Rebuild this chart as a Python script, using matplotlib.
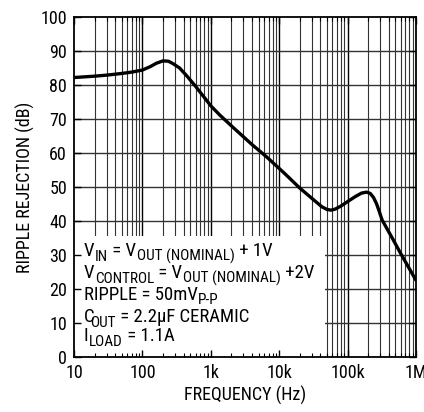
import numpy as np
import matplotlib
matplotlib.use('Agg')
import matplotlib.pyplot as plt
from matplotlib.patches import Rectangle

# --- data ---
freq_hz = [10, 20, 30, 50, 70, 100, 130, 160, 200, 240, 280, 350, 450, 600,
           800, 1000, 1350, 2100, 4000, 6600, 12000, 20000, 32000, 42000,
           50000, 57000, 66000, 80000, 100000, 130000, 160000, 190000,
           215000, 240000, 265000, 290000, 320000, 450000, 600000, 800000,
           1000000]
rejection_db = [82.2, 82.6, 82.9, 83.4, 83.8, 84.4, 85.4, 86.4, 87.1, 87.0, 86.3,
                85.0, 82.6, 79.6, 76.4, 73.9, 71.2, 67.6, 62.5, 58.8, 54.0,
                49.7, 46.2, 44.2, 43.4, 43.2, 43.5, 44.4, 45.7, 47.2, 48.2,
                48.5, 48.1, 46.9, 45.1, 42.9, 40.3, 35.0, 30.4, 26.0, 22.6]

x_ticks = [10, 100, 1e3, 1e4, 1e5, 1e6]
x_tick_labels = ['10', '100', '1k', '10k', '100k', '1M']
y_ticks = list(range(0, 101, 10))

# conditions box: (text, is_subscript) pieces per line
note_lines = [
    [('V', 0), ('IN', 1), (' = V', 0), ('OUT (NOMINAL)', 1), (' + 1V', 0)],
    [('V', 0), ('CONTROL', 1), (' = V', 0), ('OUT (NOMINAL)', 1), (' +2V', 0)],
    [('RIPPLE = 50mV', 0), ('P-P', 1)],
    [('C', 0), ('OUT', 1), (' = 2.2µF CERAMIC', 0)],
    [('I', 0), ('LOAD', 1), (' = 1.1A', 0)],
]
note_baselines = [0.297, 0.232, 0.168, 0.103, 0.047]

font = 'Roboto Condensed'
plt.rcParams['font.family'] = [font, 'DejaVu Sans']

fig = plt.figure(figsize=(4.24, 4.12), dpi=100)
ax = fig.add_axes([0.1745, 0.1335, 0.8065, 0.8252])
ax.set_xscale('log')
ax.set_xlim(10, 1e6)
ax.set_ylim(0, 100)

# grid drawn by hand so the note box can sit above it but below the ticks
for d in range(1, 6):
    for k in range(1, 10):
        xv = k * 10 ** d
        if xv <= 10 or xv >= 1e6:
            continue
        ax.axvline(xv, color='black' if k == 1 else '#333333',
                   lw=1.0 if k == 1 else 0.8, zorder=0.8)
for yv in y_ticks[1:-1]:
    ax.axhline(yv, color='#333333', lw=1.0, zorder=0.8)

# white note box
ax.add_patch(Rectangle((10, 0), 47000 - 10, 35.5, facecolor='white',
                       edgecolor='none', zorder=1.2))

ax.plot(freq_hz, rejection_db, color='black', lw=2.4, zorder=3,
        solid_capstyle='round', solid_joinstyle='round')

ax.set_xticks(x_ticks)
ax.set_xticklabels(x_tick_labels)
ax.set_yticks(y_ticks)
ax.tick_params(axis='both', which='major', direction='in', length=5,
               labelsize=13, width=1, pad=5, top=True, right=True)
ax.tick_params(axis='x', which='minor', direction='in', length=3, width=0.8,
               top=True)
ax.xaxis.set_minor_formatter(plt.NullFormatter())
for s in ax.spines.values():
    s.set_linewidth(1.3)

ax.set_xlabel('FREQUENCY (Hz)', fontsize=13, labelpad=3)
ax.set_ylabel('RIPPLE REJECTION (dB)', fontsize=13, labelpad=4)

# note text, built piece by piece so subscripts can be larger than mathtext's
main_fs, sub_fs, drop = 13.5, 11, 2.6
for pieces, yb in zip(note_lines, note_baselines):
    prev = None
    prev_sub = 0
    prev_txt = ''
    for txt, sub in pieces:
        if prev is None:
            prev = ax.text(0.029, yb, txt, transform=ax.transAxes,
                           fontsize=main_fs, va='baseline', ha='left', zorder=4)
        else:
            dy = 0
            if sub and not prev_sub:
                dy = -drop
            elif prev_sub and not sub:
                dy = drop
            # the lone "C" reports a wide box, pull the subscript back in
            dx = -3.5 if prev_txt == 'C' else 0.3
            prev = ax.annotate(txt, xy=(1, 0), xycoords=prev,
                               xytext=(dx, dy), textcoords='offset points',
                               fontsize=sub_fs if sub else main_fs,
                               va='bottom', ha='left', zorder=4)
        prev_sub = sub
        prev_txt = txt

fig.savefig('out.png', dpi=100)
